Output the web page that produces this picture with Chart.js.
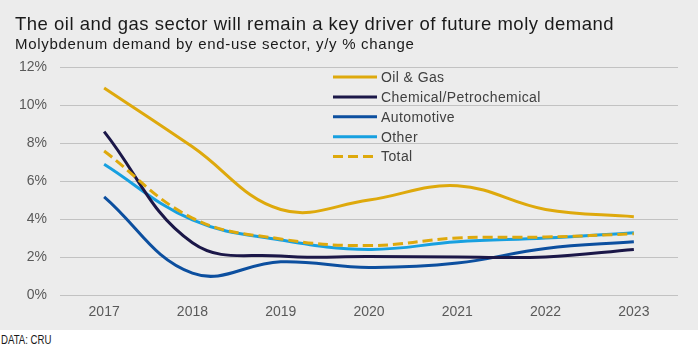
<!DOCTYPE html>
<html>
<head>
<meta charset="utf-8">
<script src="https://cdn.jsdelivr.net/npm/chart.js@4/dist/chart.umd.min.js"></script>
<style>
    html, body { margin: 0; padding: 0; background: #ffffff; }
    body { width: 698px; height: 345px; overflow: hidden; font-family: "Liberation Sans", Arial, sans-serif; }
    #panel { position: relative; width: 698px; height: 330px; background: #ececec; }
    #panel canvas { position: absolute; left: 0; top: 0; }
    .title { position: absolute; left: 15px; top: 15px; margin: 0; font-size: 18.5px; line-height: 18px; letter-spacing: 0.5px; font-weight: normal; color: #1a1a1a; white-space: nowrap; }
    .subtitle { position: absolute; left: 15px; top: 37px; margin: 0; font-size: 15px; line-height: 14.5px; letter-spacing: 0.7px; color: #1a1a1a; white-space: nowrap; }
    .source { margin: 4px 0 0 1px; font-size: 13px; line-height: 12px; color: #1a1a1a; transform: scaleX(0.74); transform-origin: left center; white-space: nowrap; }
</style>
</head>
<body>
<div id="panel">
    <canvas id="molyChart" width="698" height="330"></canvas>
    <h1 class="title">The oil and gas sector will remain a key driver of future moly demand</h1>
    <div class="subtitle">Molybdenum demand by end-use sector, y/y % change</div>
</div>
<div class="source">DATA: CRU</div>
<script>
const years = ["2017", "2018", "2019", "2020", "2021", "2022", "2023"];
const yTicks = [0, 2, 4, 6, 8, 10, 12];

const oilGas = [10.9, 7.8, 4.5, 5.0, 5.75, 4.5, 4.12];
const chemical = [8.6, 2.75, 2.05, 2.02, 2.0, 2.0, 2.4];
const automotive = [5.17, 1.15, 1.75, 1.45, 1.68, 2.45, 2.8];
const other = [6.88, 3.95, 2.9, 2.4, 2.8, 3.0, 3.28];
const total = [7.58, 4.05, 2.95, 2.6, 3.0, 3.05, 3.22];

const series = [
    { label: "Oil & Gas", data: oilGas, color: "#dea90c", dash: [] },
    { label: "Chemical/Petrochemical", data: chemical, color: "#1b1748", dash: [] },
    { label: "Automotive", data: automotive, color: "#0c4f9f", dash: [] },
    { label: "Other", data: other, color: "#17a0e0", dash: [] },
    { label: "Total", data: total, color: "#dea90c", dash: [10, 5] },
];

// legend sits inside the plot, upper middle
const insideLegend = {
    id: "insideLegend",
    afterDraw(chart) {
        const ctx = chart.ctx;
        const x0 = 333, x1 = 377, tx = 381;
        let y = 77;
        ctx.save();
        ctx.font = "14px 'Liberation Sans', Arial, sans-serif";
        ctx.letterSpacing = "0.4px";
        ctx.textBaseline = "middle";
        series.forEach(s => {
            ctx.beginPath();
            ctx.setLineDash(s.dash);
            ctx.strokeStyle = s.color;
            ctx.lineWidth = 3;
            ctx.moveTo(x0, y);
            ctx.lineTo(x1, y);
            ctx.stroke();
            ctx.setLineDash([]);
            ctx.fillStyle = "#404040";
            ctx.fillText(s.label, tx, y + 1);
            y += 19.9;
        });
        ctx.restore();
    }
};

new Chart(document.getElementById("molyChart").getContext("2d"), {
    type: "line",
    data: {
        labels: years,
        datasets: series.map((s, i) => ({
            label: s.label,
            data: s.data,
            borderColor: s.color,
            borderDash: s.dash,
            borderWidth: 3,
            tension: 0.4,
            pointRadius: 0,
            fill: false,
            order: s.label === "Total" ? 0 : i + 1,
        })),
    },
    options: {
        responsive: false,
        animation: false,
        layout: { padding: { top: 67, right: 20, left: 0, bottom: 0 } },
        plugins: {
            legend: { display: false },
            tooltip: { enabled: false },
        },
        scales: {
            x: {
                offset: true,
                grid: { display: false, drawTicks: false },
                border: { display: false },
                ticks: {
                    color: "#595959",
                    padding: 9,
                    font: { family: "'Liberation Sans', Arial, sans-serif", size: 14 },
                },
                afterFit(scale) { scale.height = 35; },
            },
            y: {
                min: 0,
                max: 12,
                afterBuildTicks(scale) { scale.ticks = yTicks.map(v => ({ value: v })); },
                grid: { color: "#c2c2c2", lineWidth: 1, drawTicks: false },
                border: { display: false },
                ticks: {
                    color: "#595959",
                    padding: 13,
                    font: { family: "'Liberation Sans', Arial, sans-serif", size: 14 },
                    callback: v => v + "%",
                },
                afterFit(scale) { scale.width = 60; },
            },
        },
    },
    plugins: [insideLegend],
});
</script>
</body>
</html>
